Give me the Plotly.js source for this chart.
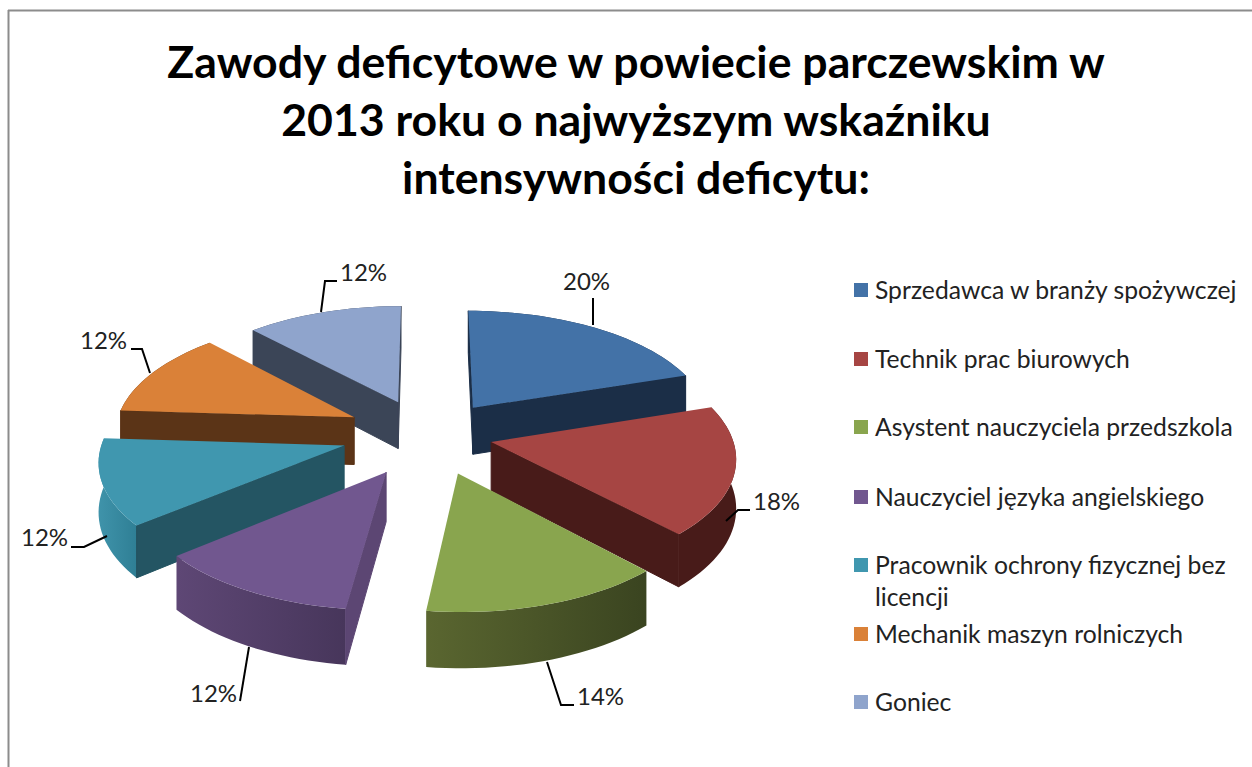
<!DOCTYPE html>
<html><head><meta charset="utf-8">
<script src="https://cdn.plot.ly/plotly-3.0.1.min.js"></script>
<style>html,body{margin:0;padding:0;background:#fff}#c{width:1252px;height:767px}</style>
</head><body><div id="c"></div>
<script>
const titleLines = ["Zawody deficytowe w powiecie parczewskim w","2013 roku o najwyższym wskaźniku","intensywności deficytu:"];
const categories = ["Sprzedawca w branży spożywczej","Technik prac biurowych","Asystent nauczyciela przedszkola","Nauczyciel języka angielskiego","Pracownik ochrony fizycznej bez<br>licencji","Mechanik maszyn rolniczych","Goniec"];
const values = [20,18,14,12,12,12,12];
const topColors = ["#4372A7","#A64543","#89A54E","#71578F","#4097AF","#DA8138","#8FA4CC"];
const cutColors = ["#1B2E47","#481B19","#3A4420","#5C4673","#245563","#5B3417","#3B4557"];
const wallFrom  = ["#1B2E47","#481B19","#5A6630","#5E4775","#3F93AA","#5B3417","#3B4557"];
const wallTo    = ["#1B2E47","#481B19","#3A4420","#47365B","#2F7F95","#5B3417","#3B4557"];
// layout of the drawing
const view = {cx:425, cy:436, B:240, A:114, p:0.11, depth:48, explode:0.35};
const nudgeX = [0,-16,6,3,0,4,3];
const nudgeY = [3,-4,-2,0,-3,-2,2];
const legendX = 861, legendTextX = 875;
const legendY = [290,359,427,497,565,634,702];
const leaderX = [[593,593],[726,738,750],[547,561,574],[249,240],[107,84,71],[150,142,131],[321,325,337]];
const leaderY = [[325,298],[521,510,510],[662,705,705],[647,701],[536,547,547],[373,349,349],[312,281,281]];
const labelX = [586,776,600,213,44,103,363];
const labelY = [280,500,695,692,536,339,271];

function proj(X,Y,z){const s=1-view.p*Y;return [view.cx+view.B*X/s, view.cy+(view.A*Y+z*view.depth)/s];}
const total = values.reduce((a,b)=>a+b,0);
let acc=0; const slices=values.map((v,i)=>{const a=acc/total*2*Math.PI;acc+=v;const b=acc/total*2*Math.PI;return {i,a,b,m:(a+b)/2};});
function geom(s){
  const ox=view.explode*Math.sin(s.m), oy=-view.explode*Math.cos(s.m);
  const n=Math.max(8,Math.round((s.b-s.a)/(Math.PI/90)));
  const mv=p=>[p[0]+nudgeX[s.i],p[1]+nudgeY[s.i]];
  const arc=(z)=>{const o=[];for(let k=0;k<=n;k++){const t=s.a+(s.b-s.a)*k/n;o.push(mv(proj(ox+Math.sin(t),oy-Math.cos(t),z)));}return o;};
  return {apex:z=>mv(proj(ox,oy,z)),arc};
}
const xy=(pts)=>({x:pts.map(p=>p[0]).concat(pts[0][0]),y:pts.map(p=>p[1]).concat(pts[0][1])});
function face(pts,extra){return Object.assign({type:'scatter',mode:'none',fill:'toself',hoverinfo:'skip',showlegend:false},xy(pts),extra);}
const traces=[];
slices.slice().sort((u,v)=>(-Math.cos(u.m))-(-Math.cos(v.m))).forEach(s=>{
  const g=geom(s),top=g.arc(0),bot=g.arc(1),ap=g.apex(0),apb=g.apex(1);
  traces.push(face(top.concat(bot.slice().reverse()),{fillgradient:{type:'horizontal',colorscale:[[0,wallFrom[s.i]],[1,wallTo[s.i]]]},name:categories[s.i]+' wall'}));
  const mid=top[Math.floor(top.length/2)];
  [[top[0],bot[0]],[top[top.length-1],bot[bot.length-1]]].forEach(([et,eb])=>{
    const ex=et[0]-ap[0],ey=et[1]-ap[1];
    const sideIn=ex*(mid[1]-ap[1])-ey*(mid[0]-ap[0]);
    const sideDown=ex*(apb[1]-ap[1])-ey*(apb[0]-ap[0]);
    if(sideIn*sideDown<0) traces.push(face([ap,et,eb,apb],{mode:'lines',line:{color:cutColors[s.i],width:1},fillcolor:cutColors[s.i],name:categories[s.i]+' cut'}));
  });
  traces.push(face([ap].concat(top),{fillcolor:topColors[s.i],name:categories[s.i]}));
});
leaderX.forEach((lx,i)=>traces.push({type:'scatter',mode:'lines',x:lx,y:leaderY[i],line:{color:'#000',width:2},hoverinfo:'skip',showlegend:false}));
traces.push({type:'scatter',mode:'markers',x:legendY.map(()=>legendX),y:legendY,marker:{symbol:'square',size:14,color:topColors},hoverinfo:'skip',showlegend:false});

const font='Lato, "Open Sans", sans-serif';
const annotations=[];
categories.forEach((c,i)=>annotations.push({x:legendTextX,y:legendY[i]-(i===4?0:1),yanchor:i===4?'top':'middle',yshift:i===4?17:0,xshift:-2,xanchor:'left',align:'left',xref:'x',yref:'y',showarrow:false,text:c,font:{family:font,size:24.7,color:'#222'}}));
values.forEach((v,i)=>annotations.push({x:labelX[i],y:labelY[i],xref:'x',yref:'y',showarrow:false,text:v+'%',font:{family:font,size:24,color:'#222'}}));

Plotly.newPlot('c',traces,{
  width:1252,height:767,margin:{l:0,r:0,t:0,b:0},paper_bgcolor:'#fff',plot_bgcolor:'#fff',showlegend:false,
  title:{text:titleLines.join('<br>'),x:636/1252,xanchor:'center',y:1-78/767,yanchor:'top',font:{family:font,size:44.6,color:'#000',weight:700}},
  xaxis:{range:[0,1252],visible:false,fixedrange:true},
  yaxis:{range:[767,0],visible:false,fixedrange:true},
  annotations,
  shapes:[{type:'line',xref:'x',yref:'y',x0:8.5,x1:8.5,y0:10,y1:767,line:{color:'#8c8c8c',width:2}},
          {type:'line',xref:'x',yref:'y',x0:8,x1:1252,y0:10.5,y1:10.5,line:{color:'#8c8c8c',width:2}}]
},{displayModeBar:false,staticPlot:true});
</script></body></html>
